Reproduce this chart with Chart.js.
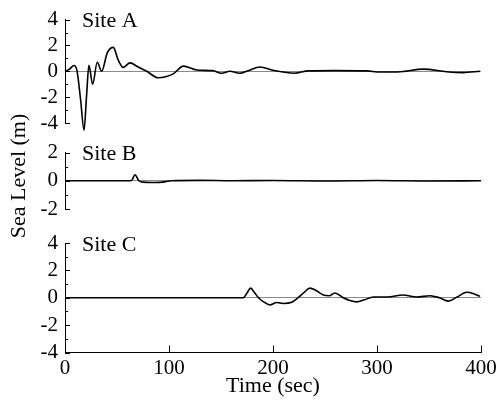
<!DOCTYPE html>
<html><head><meta charset="utf-8">
<script src="https://cdn.jsdelivr.net/npm/chart.js@4.4.1/dist/chart.umd.min.js"></script>
<style>
html,body{margin:0;padding:0;background:#fff;}
#wrap{position:relative;width:498px;height:402px;overflow:hidden;}
#wrap canvas{position:absolute;left:0;top:0;}
</style></head><body>
<div id="wrap">
<canvas id="cA" width="498" height="402"></canvas>
<canvas id="cB" width="498" height="402"></canvas>
<canvas id="cC" width="498" height="402"></canvas>
</div>
<script>
// ---- data ----
const siteNames = ['Site A', 'Site B', 'Site C'];
const yTitle = 'Sea Level (m)';
const xTitle = 'Time (sec)';
const xTicks = [0, 100, 200, 300, 400];
const yTicksA = [-4, -2, 0, 2, 4];
const yTicksB = [-2, 0, 2];
const yTicksC = [-4, -2, 0, 2, 4];

const timeA  = [0, 4, 8.7, 11.5, 15, 18.3, 20.8, 23, 26.6, 31, 35.2, 40.7, 46.5, 51, 56, 62.5, 70, 78.5, 89.7, 104, 113.8, 126.6, 142, 150.6, 158.6, 168, 176, 187.5, 200, 220.5, 234, 260, 290, 303, 320, 344.5, 367, 383, 399];
const levelA = [0, 0.15, 0.45, 0.05, -2.2, -4.55, -1.8, 0.46, -1.0, 0.7, 0.0, 1.45, 1.85, 0.9, 0.3, 0.65, 0.35, 0.0, -0.5, -0.2, 0.4, 0.1, 0.05, -0.15, 0, -0.15, 0.05, 0.33, 0.08, -0.15, 0.03, 0.05, 0.03, -0.05, -0.05, 0.17, -0.03, -0.1, 0];

const timeB  = [0, 60, 64, 67.3, 71, 75, 85, 96, 102, 130, 160, 200, 250, 300, 350, 400];
const levelB = [0, 0, 0.02, 0.42, 0.0, -0.1, -0.12, -0.08, 0, 0.03, 0, 0.02, -0.02, 0.02, -0.02, 0];

const timeC  = [0, 171.5, 175, 178.5, 182, 186, 191, 197, 203.5, 210, 218, 224, 230, 235.6, 241, 248.4, 254, 259.6, 267.6, 274, 280.5, 288, 296.5, 310, 325, 338, 351, 360, 368.5, 377, 386, 393, 399];
const levelC = [0, 0, 0.35, 0.7, 0.4, 0, -0.3, -0.53, -0.35, -0.42, -0.33, 0, 0.4, 0.7, 0.55, 0.2, 0.15, 0.35, 0, -0.2, -0.3, -0.15, 0.05, 0.05, 0.2, 0.05, 0.15, 0, -0.25, 0.05, 0.4, 0.3, 0.1];

// ---- drawing ----
const FONT = '"Liberation Serif", "Times New Roman", serif';
const W = 498, H = 402, LEFT = 65, RIGHT = 481;

function pts(t, v) { return t.map((x, i) => ({x: x, y: v[i]})); }

const inwardTicks = {
  id: 'inwardTicks',
  afterDraw(chart, args, opts) {
    const ctx = chart.ctx, ca = chart.chartArea;
    const ys = chart.scales.y;
    ctx.save();
    ctx.strokeStyle = '#000';
    ctx.lineWidth = 1;
    ctx.beginPath();
    for (let v = ys.min; v <= ys.max + 1e-9; v += 1) {
      const py = Math.round(ys.getPixelForValue(v)) + 0.5;
      const len = (Math.abs(v) % 2 === 0) ? 5 : 3;
      ctx.moveTo(ca.left, py); ctx.lineTo(ca.left + len, py);
    }
    if (opts.showX) {
      const xs = chart.scales.x;
      xs.ticks.forEach(tk => {
        const px = Math.round(xs.getPixelForValue(tk.value)) + 0.5;
        ctx.moveTo(px, ca.bottom); ctx.lineTo(px, ca.bottom - 7);
      });
    }
    ctx.stroke();
    // site label
    ctx.fillStyle = '#000';
    ctx.font = '22px ' + FONT;
    ctx.textAlign = 'left';
    ctx.textBaseline = 'middle';
    ctx.fillText(opts.name, ca.left + 17, ca.top + 2);
    if (opts.yTitle) {
      ctx.translate(19, 176);
      ctx.rotate(-Math.PI / 2);
      ctx.textAlign = 'center';
      ctx.fillText(opts.yTitle, 0, 0);
    }
    ctx.restore();
  }
};

function makePanel(id, name, t, v, yTicks, top, bottom, showX, withTitle) {
  new Chart(document.getElementById(id), {
    type: 'line',
    data: {
      datasets: [{
        data: pts(t, v),
        borderColor: '#000',
        borderWidth: 1.6,
        pointRadius: 0,
        fill: false,
        clip: false,
        cubicInterpolationMode: 'monotone'
      }]
    },
    options: {
      responsive: false,
      animation: false,
      devicePixelRatio: 1,
      layout: { padding: { left: 0, right: W - RIGHT, top: top, bottom: showX ? 0 : H - bottom } },
      plugins: {
        legend: { display: false },
        tooltip: { enabled: false },
        inwardTicks: { name: name, showX: showX, yTitle: withTitle ? yTitle : null }
      },
      scales: {
        x: {
          type: 'linear', min: xTicks[0], max: xTicks[xTicks.length - 1],
          display: showX,
          afterBuildTicks: s => { s.ticks = xTicks.map(x => ({value: x})); },
          afterFit: s => { if (showX) s.height = H - bottom; },
          grid: { display: false },
          border: { display: true, color: '#000', width: 1 },
          ticks: { color: '#000', font: { family: FONT, size: 21 }, padding: -5, maxRotation: 0, autoSkip: false,
                   callback: val => String(val) },
          title: { display: true, text: xTitle, color: '#000', font: { family: FONT, size: 22 }, padding: { top: 0, bottom: 3 } }
        },
        y: {
          type: 'linear', min: yTicks[0], max: yTicks[yTicks.length - 1],
          afterBuildTicks: s => { s.ticks = yTicks.map(y => ({value: y})); },
          afterFit: s => { s.width = LEFT; },
          grid: { display: true, drawTicks: false, lineWidth: 1,
                  color: c => (c.tick && c.tick.value === 0) ? '#8a8a8a' : 'rgba(0,0,0,0)' },
          border: { display: true, color: '#000', width: 1 },
          ticks: { color: '#000', font: { family: FONT, size: 21 }, padding: 7, autoSkip: false,
                   callback: val => String(val) }
        }
      }
    },
    plugins: [inwardTicks]
  });
}

makePanel('cA', siteNames[0], timeA, levelA, yTicksA, 13.5, 123, false, false);
makePanel('cB', siteNames[1], timeB, levelB, yTicksB, 152.5, 209, false, true);
makePanel('cC', siteNames[2], timeC, levelC, yTicksC, 243, 352.5, true, false);
</script>
</body></html>
